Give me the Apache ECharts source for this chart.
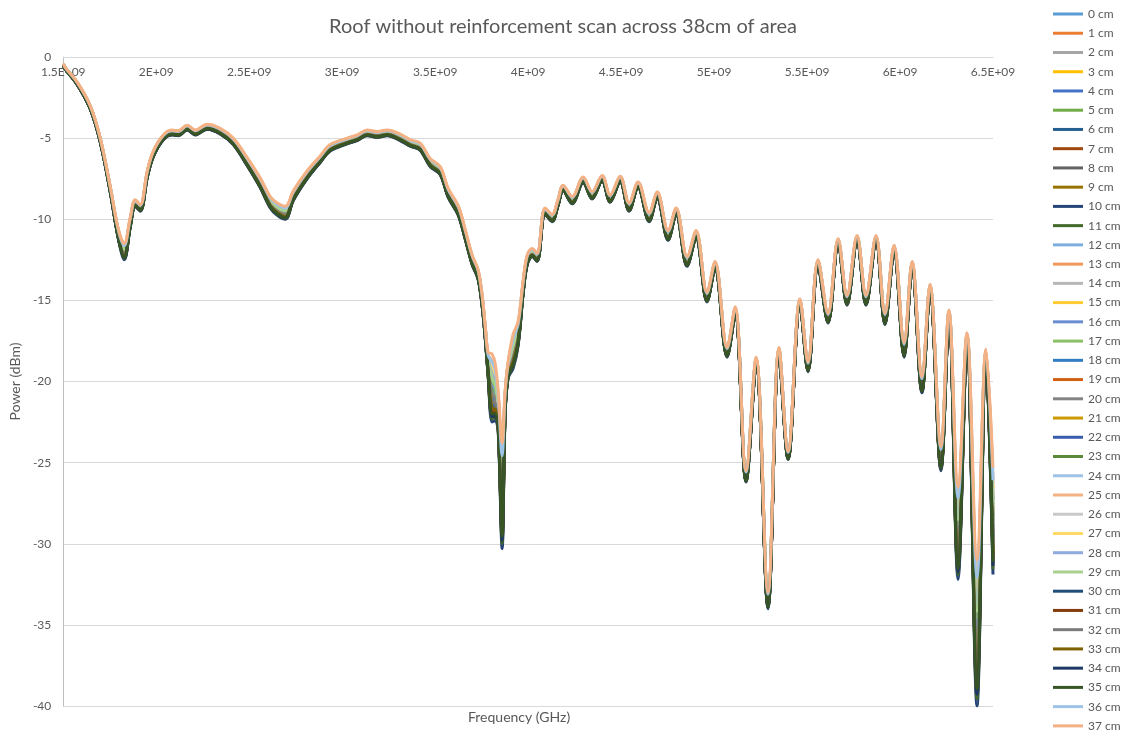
<!DOCTYPE html>
<html>
<head>
<meta charset="utf-8">
<script src="https://cdn.jsdelivr.net/npm/echarts@6/dist/echarts.min.js"></script>
<style>html,body{margin:0;padding:0;background:#fff}#c{width:1126px;height:731px}</style>
</head>
<body>
<div id="c"></div>
<script>
// Frequency sample points (GHz)
const freqGHz = [1.5,1.511,1.575,1.645,1.699,1.753,1.796,1.828,1.86,1.887,1.914,1.952,1.984,2.038,2.086,2.118,2.167,2.21,2.274,2.344,2.414,2.489,2.559,2.613,2.651,2.694,2.737,2.812,2.882,2.935,3.027,3.081,3.134,3.188,3.242,3.312,3.366,3.419,3.473,3.527,3.57,3.624,3.661,3.699,3.731,3.753,3.769,3.785,3.806,3.823,3.839,3.86,3.876,3.892,3.919,3.946,3.973,3.995,4.022,4.048,4.091,4.129,4.16,4.188,4.237,4.296,4.344,4.398,4.441,4.495,4.543,4.591,4.651,4.694,4.753,4.796,4.855,4.903,4.962,5.005,5.07,5.113,5.172,5.226,5.29,5.349,5.398,5.462,5.505,5.559,5.613,5.667,5.715,5.769,5.817,5.871,5.919,5.968,6.022,6.065,6.118,6.161,6.22,6.263,6.312,6.36,6.414,6.462,6.5];
// Upper envelope of the bundle of traces (dBm)
const topPower = [-0.4,-0.65,-1.55,-3.0,-5.0,-8.0,-10.6,-11.5,-9.9,-8.8,-9.1,-7.0,-5.8,-4.8,-4.5,-4.55,-4.2,-4.5,-4.15,-4.4,-5.0,-6.2,-7.45,-8.6,-9.0,-9.2,-8.25,-7.0,-6.1,-5.4,-5.0,-4.8,-4.5,-4.6,-4.5,-4.75,-5.1,-5.3,-6.25,-6.75,-8.1,-9.15,-10.6,-12.2,-13.1,-14.7,-16.5,-18.2,-18.3,-18.9,-20.6,-23.8,-20.6,-18.8,-17.1,-16.3,-13.8,-12.2,-11.8,-12.1,-9.3,-9.7,-8.8,-7.9,-8.6,-7.4,-8.3,-7.3,-8.5,-7.35,-9.0,-7.7,-9.6,-8.3,-10.7,-9.3,-12.3,-10.7,-14.5,-12.6,-17.9,-15.4,-25.5,-18.5,-33.0,-17.9,-24.3,-14.9,-18.8,-12.5,-15.8,-11.2,-14.7,-11.0,-14.7,-11.0,-15.8,-11.6,-17.6,-12.6,-19.7,-14.0,-24.0,-15.6,-26.5,-17.0,-31.0,-18.0,-25.3];
// Width of the bundle below the upper envelope (dB)
const bandWidth = [0.1,0.1,0.15,0.2,0.25,0.35,0.6,1.0,0.6,0.4,0.4,0.4,0.35,0.3,0.3,0.3,0.3,0.3,0.3,0.35,0.4,0.5,0.6,0.7,0.75,0.8,0.6,0.5,0.4,0.4,0.35,0.35,0.35,0.35,0.35,0.4,0.4,0.45,0.5,0.5,0.55,0.6,0.6,0.6,0.6,0.7,0.8,1.5,4.2,3.5,2.5,6.5,1.5,1.0,2.1,1.5,0.8,0.6,0.5,0.5,0.4,0.45,0.4,0.35,0.45,0.35,0.45,0.35,0.45,0.35,0.5,0.35,0.55,0.4,0.6,0.4,0.6,0.45,0.6,0.45,0.6,0.5,0.7,0.5,1.0,0.5,0.5,0.4,0.6,0.4,0.6,0.35,0.6,0.35,0.6,0.35,0.7,0.4,0.9,0.4,1.0,0.5,1.5,0.5,5.7,0.6,9.0,0.6,6.6];
// Position of each trace inside the bundle (0 = top, 1 = bottom)
const seriesRank = [0.55,0.6,0.5,0.45,0.7,0.5,0.75,0.85,0.65,0.8,1.0,0.95,0.3,0.2,0.35,0.3,0.45,0.4,0.65,0.9,0.6,0.7,0.75,0.8,0.15,0.1,0.25,0.2,0.3,0.35,0.9,0.85,0.7,0.8,0.92,0.88,0.12,0];
const seriesNames = Array.from({length: 38}, (_, i) => i + ' cm');
const xTickLabels = ['1.5E+09','2E+09','2.5E+09','3E+09','3.5E+09','4E+09','4.5E+09','5E+09','5.5E+09','6E+09','6.5E+09'];

const palette = ['#5B9BD5','#ED7D31','#A5A5A5','#FFC000','#4472C4','#70AD47','#255E91','#9E480E','#636363','#997300','#264478','#43682B','#7CAFDD','#F1975A','#B7B7B7','#FFCD33','#698ED0','#8CC168','#327DC2','#D26012','#848484','#CC9A00','#3A5DAE','#5A8A39','#9DC3E6','#F4B183','#C9C9C9','#FFD966','#8FAADC','#A9D18E','#1F4E79','#843C0C','#7B7B7B','#7F6000','#203864','#375623','#9DC3E6','#F4B183'];

const font = 'Lato, "Open Sans", sans-serif';
const series = seriesNames.map((name, s) => ({
  name,
  type: 'line',
  showSymbol: false,
  smooth: 0.35,
  lineStyle: { width: 3, color: palette[s] },
  itemStyle: { color: palette[s] },
  emphasis: { disabled: true },
  data: freqGHz.map((f, i) => [f, +(topPower[i] - seriesRank[s] * bandWidth[i]).toFixed(2)])
}));

const chart = echarts.init(document.getElementById('c'), null, { renderer: 'canvas' });
chart.setOption({
  animation: false,
  backgroundColor: '#ffffff',
  color: palette,
  title: {
    text: 'Roof without reinforcement scan across 38cm of area',
    left: 'center', top: 12,
    textStyle: { fontFamily: font, fontSize: 20, fontWeight: 'normal', color: '#595959' }
  },
  legend: {
    type: 'plain', orient: 'vertical', left: 1053, top: 8, height: 900, padding: 0,
    itemWidth: 30, itemHeight: 3, itemGap: 7.24, icon: 'rect',
    textStyle: { fontFamily: font, fontSize: 12, color: '#595959', lineHeight: 11 },
    data: seriesNames
  },
  grid: { left: 63, right: 133, top: 57, bottom: 25, containLabel: false },
  xAxis: {
    type: 'value', position: 'top', min: 1.5, max: 6.5, interval: 0.5,
    axisLine: { show: true, onZero: false, lineStyle: { color: '#d9d9d9', width: 1 } },
    axisTick: { show: false },
    splitLine: { show: false },
    axisLabel: {
      inside: true, margin: 9, color: '#595959', fontFamily: font, fontSize: 12,
      formatter: (v) => xTickLabels[Math.round((v - 1.5) / 0.5)] || ''
    }
  },
  yAxis: {
    type: 'value', min: -40, max: 0, interval: 5,
    name: 'Power (dBm)', nameLocation: 'middle', nameGap: 40,
    nameTextStyle: { fontFamily: font, fontSize: 14, color: '#595959' },
    axisLine: { show: true, onZero: false, lineStyle: { color: '#bfbfbf', width: 1 } },
    axisTick: { show: false },
    splitLine: { show: true, lineStyle: { color: '#d9d9d9', width: 1 } },
    axisLabel: { margin: 12, color: '#595959', fontFamily: font, fontSize: 12 }
  },
  graphic: [{
    type: 'text', left: 528 - 60, top: 710,
    style: { text: 'Frequency (GHz)', fill: '#595959', font: '14px ' + font, width: 120, align: 'center' }
  }],
  series
});
</script>
</body>
</html>
